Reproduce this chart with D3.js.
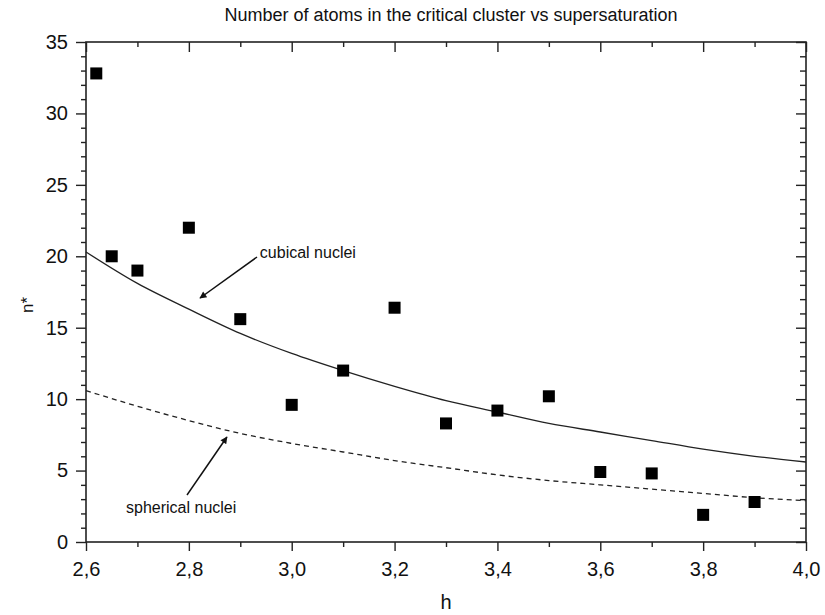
<!DOCTYPE html>
<html>
<head>
<meta charset="utf-8">
<script src="https://cdn.jsdelivr.net/npm/d3@7"></script>
<style>
	body { margin: 0; background: #fff; }
	svg text { font-family: 'Liberation Sans', Arial, sans-serif; fill: #111; }
</style>
</head>
<body>
<svg id="chart" width="825" height="615"></svg>
<script>
// measured points: supersaturation h vs n*
let hValues = [2.62, 2.65, 2.7, 2.8, 2.9, 3.0, 3.1, 3.2, 3.3, 3.4, 3.5, 3.6, 3.7, 3.8, 3.9];
let nValues = [32.8, 20.0, 19.0, 22.0, 15.6, 9.6, 12.0, 16.4, 8.3, 9.2, 10.2, 4.9, 4.8, 1.9, 2.8];

// model curves
let curveH = [2.6, 2.7, 2.8, 2.9, 3.0, 3.1, 3.2, 3.3, 3.4, 3.5, 3.6, 3.7, 3.8, 3.9, 4.0];
let cubicalN = [20.3, 18.1, 16.3, 14.6, 13.2, 12.0, 10.9, 9.9, 9.1, 8.3, 7.7, 7.1, 6.5, 6.0, 5.6];
let sphericalN = [10.6, 9.5, 8.5, 7.6, 6.9, 6.3, 5.7, 5.2, 4.7, 4.3, 4.0, 3.7, 3.4, 3.1, 2.9];

let xMajor = [2.6, 2.8, 3.0, 3.2, 3.4, 3.6, 3.8, 4.0];
let xMinor = [2.7, 2.9, 3.1, 3.3, 3.5, 3.7, 3.9];
let yMajor = [0, 5, 10, 15, 20, 25, 30, 35];
let yMinor = [1, 2, 3, 4, 6, 7, 8, 9, 11, 12, 13, 14, 16, 17, 18, 19, 21, 22, 23, 24, 26, 27, 28, 29, 31, 32, 33, 34];

let title = 'Number of atoms in the critical cluster vs supersaturation';

let svg = d3.select('#chart');
let pLeft = 86, pRight = 806, pTop = 42, pBottom = 542;

let x = d3.scaleLinear().domain([2.6, 4.0]).range([pLeft, pRight]);
let y = d3.scaleLinear().domain([0, 35]).range([pBottom, pTop]);
let fmt = d => d3.format('.1f')(d).replace('.', ',');

// axes: outward ticks on left/bottom, inward on top/right
function drawAxis(axis, tr, labels) {
	let g = svg.append('g').attr('transform', tr).call(axis);
	g.select('.domain').remove();
	g.selectAll('line').attr('stroke', '#222').attr('stroke-width', 1.4);
	if (!labels) g.selectAll('text').remove();
	return g;
}
let gx = drawAxis(d3.axisBottom(x).tickValues(xMajor).tickSize(9).tickPadding(11).tickFormat(fmt), `translate(0,${pBottom})`, true);
drawAxis(d3.axisBottom(x).tickValues(xMinor).tickSize(5), `translate(0,${pBottom})`, false);
let gy = drawAxis(d3.axisLeft(y).tickValues(yMajor).tickSize(10).tickPadding(8), `translate(${pLeft},0)`, true);
drawAxis(d3.axisLeft(y).tickValues(yMinor).tickSize(5), `translate(${pLeft},0)`, false);
drawAxis(d3.axisTop(x).tickValues(xMajor).tickSize(-10), `translate(0,${pTop})`, false);
drawAxis(d3.axisTop(x).tickValues(xMinor).tickSize(-5), `translate(0,${pTop})`, false);
drawAxis(d3.axisRight(y).tickValues(yMajor).tickSize(-10), `translate(${pRight},0)`, false);
drawAxis(d3.axisRight(y).tickValues(yMinor).tickSize(-6), `translate(${pRight},0)`, false);
gx.selectAll('text').attr('font-size', 20).attr('font-family', "'Liberation Sans', Arial, sans-serif");
gy.selectAll('text').attr('font-size', 20).attr('font-family', "'Liberation Sans', Arial, sans-serif");

// frame
svg.append('rect').attr('x', pLeft).attr('y', pTop).attr('width', pRight - pLeft).attr('height', pBottom - pTop)
	.style('fill', 'none').style('stroke', '#222').style('stroke-width', 1.6);

// curves
let line = d3.line().x((d, i) => x(curveH[i])).y(d => y(d)).curve(d3.curveMonotoneX);
svg.append('path').attr('d', line(cubicalN))
	.style('fill', 'none').style('stroke', '#222').style('stroke-width', 1.3);
svg.append('path').attr('d', line(sphericalN))
	.style('fill', 'none').style('stroke', '#222').style('stroke-width', 1.3).style('stroke-dasharray', '5,4');

// data squares
let s = 12;
svg.selectAll('rect.pt').data(nValues).join('rect').attr('class', 'pt')
	.attr('x', (d, i) => x(hValues[i]) - s / 2)
	.attr('y', d => y(d) - s / 2)
	.attr('width', s).attr('height', s)
	.style('fill', '#000');

// arrowhead
svg.append('defs').append('marker').attr('id', 'arr')
	.attr('viewBox', '0 0 10 10').attr('refX', 9).attr('refY', 5)
	.attr('markerWidth', 11).attr('markerHeight', 7).attr('markerUnits', 'userSpaceOnUse').attr('orient', 'auto')
	.append('path').attr('d', 'M0,0 L10,5 L0,10 z').style('fill', '#111');

// annotations: [fromH, fromN, toH, toN]
let notes = [
	{text: 'cubical nuclei', tx: 2.938, ty: 20.3, anchor: 'start', a: [2.9325, 19.95, 2.8217, 17.08]},
	{text: 'spherical nuclei', tx: 2.785, ty: 2.45, anchor: 'middle', a: [2.7964, 3.29, 2.874, 7.35]}
];
for (let n of notes) {
	svg.append('line').attr('x1', x(n.a[0])).attr('y1', y(n.a[1])).attr('x2', x(n.a[2])).attr('y2', y(n.a[3]))
		.style('stroke', '#111').style('stroke-width', 1.5).attr('marker-end', 'url(#arr)');
	svg.append('text').attr('x', x(n.tx)).attr('y', y(n.ty)).attr('dy', '0.35em')
		.attr('text-anchor', n.anchor).attr('font-size', 16).text(n.text);
}

// titles
svg.append('text').attr('x', (pLeft + pRight) / 2 + 5).attr('y', 21).attr('text-anchor', 'middle')
	.attr('font-size', 18).text(title);
svg.append('text').attr('x', (pLeft + pRight) / 2).attr('y', 609).attr('text-anchor', 'middle')
	.attr('font-size', 20).text('h');
svg.append('text').attr('transform', `translate(33,305) rotate(-90)`)
	.attr('text-anchor', 'middle').attr('font-size', 17).text('n*');
</script>
</body>
</html>
